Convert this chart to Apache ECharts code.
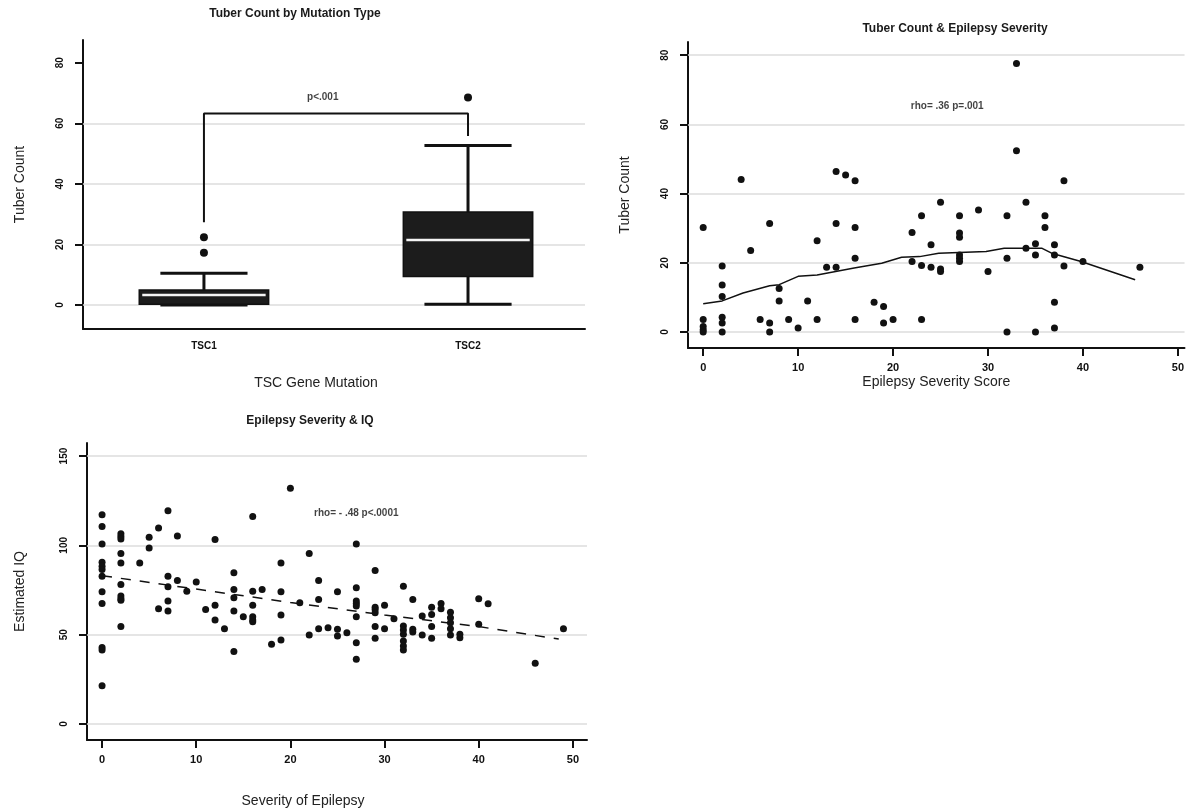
<!DOCTYPE html>
<html>
<head>
<meta charset="utf-8">
<script src="https://cdn.jsdelivr.net/npm/echarts@6/dist/echarts.min.js"></script>
<style>
  html, body { margin: 0; padding: 0; background: #fff; }
  #chart { width: 1187px; height: 812px; }
</style>
</head>
<body>
<div id="chart"></div>
<script>
// Panel 1: tuber count by mutation type (box plot)
const mutationGroups = ['TSC1', 'TSC2'];
// [group position, lower whisker, Q1, median, Q3, upper whisker]
const boxStats = [
  [1, 0, 0.3, 3.3, 5, 10.5],
  [2, 0.3, 9.4, 21.5, 30.7, 52.7]
];
const boxOutliers = [[1, 22.4], [1, 17.3], [2, 68.5]];
const bracketPath = [[1, 27.3], [1, 63.2], [2, 63.2], [2, 55.8]];

// Panel 2: epilepsy severity score vs tuber count
const severityTuber = [
  [0, 30.2], [0, 3.6], [0, 1.6], [0, 0.7], [0, 0],
  [2, 19.1], [2, 13.6], [2, 10.3], [2, 4.3], [2, 2.6], [2, 0],
  [4, 44.1], [5, 23.6], [6, 3.6], [7, 31.4], [7, 2.6], [7, 0],
  [8, 12.6], [8, 9.0], [9, 3.6], [10, 1.2], [11, 9.0],
  [12, 26.4], [12, 3.6], [13, 18.7],
  [14, 46.4], [14, 31.4], [14, 18.7], [15, 45.4],
  [16, 43.7], [16, 30.2], [16, 21.3], [16, 3.6],
  [18, 8.6], [19, 7.4], [19, 2.6], [20, 3.6],
  [22, 28.8], [22, 20.4], [23, 33.6], [23, 19.2], [23, 3.6],
  [24, 25.2], [24, 18.7], [25, 37.5], [25, 18.2], [25, 17.5],
  [27, 33.6], [27, 28.6], [27, 27.4], [27, 22.3], [27, 21.3], [27, 20.4],
  [29, 35.3], [30, 17.5], [32, 33.6], [32, 21.3], [32, 0],
  [33, 77.6], [33, 52.4], [34, 37.5], [34, 24.2],
  [35, 25.5], [35, 22.3], [35, 0], [36, 33.6], [36, 30.2],
  [37, 25.2], [37, 22.3], [37, 8.6], [37, 1.2],
  [38, 43.7], [38, 19.1], [40, 20.4], [46, 18.7]
];
const severityTuberFit = [
  [0, 8.2], [2, 9.0], [4.2, 11.3], [7, 13.4], [8, 13.7], [10, 16.1],
  [12, 16.5], [15.9, 18.5], [18.8, 19.9], [20.9, 21.6], [22.8, 21.8],
  [24.8, 22.8], [29.8, 23.3], [31.7, 24.2], [35.7, 24.2], [36.7, 22.8],
  [39.8, 20.4], [45.5, 15.1]
];

// Panel 3: severity of epilepsy vs estimated IQ
const severityIQ = [
  [0, 117.1], [0, 110.6], [0, 100.7], [0, 90.5], [0, 88.3], [0, 86.4], [0, 82.7],
  [0, 74.0], [0, 67.5], [0, 42.8], [0, 41.4], [0, 21.4],
  [2, 106.5], [2, 105], [2, 103.5], [2, 95.4], [2, 90.1], [2, 78.1], [2, 71.6],
  [2, 70.1], [2, 69.3], [2, 54.5],
  [4, 90.1], [5, 104.5], [5, 98.5], [6, 109.7], [6, 64.5],
  [7, 119.3], [7, 82.7], [7, 76.8], [7, 68.8], [7, 63.2],
  [8, 105.2], [8, 80.3], [9, 74.3], [10, 79.4], [11, 64.1],
  [12, 103.2], [12, 66.4], [12, 58.2], [13, 53.3],
  [14, 84.6], [14, 75.3], [14, 70.6], [14, 63.2], [14, 40.5], [15, 60.0],
  [16, 116.2], [16, 74.3], [16, 66.5], [16, 60.0], [16, 58.2], [16, 57.2],
  [17, 75.3], [18, 44.6], [19, 90.1], [19, 74.0], [19, 61.0], [19, 47.0],
  [20, 132.0], [21, 67.8], [22, 95.4], [22, 49.8],
  [23, 80.3], [23, 69.7], [23, 53.3], [24, 53.9],
  [25, 74.0], [25, 53.0], [25, 49.3], [26, 51.1],
  [27, 100.7], [27, 76.2], [27, 68.8], [27, 67.5], [27, 66.0], [27, 60.0], [27, 45.5], [27, 36.2],
  [29, 85.9], [29, 65.4], [29, 64.1], [29, 62.3], [29, 54.5], [29, 48.0],
  [30, 66.4], [30, 53.3], [31, 58.9],
  [32, 77.1], [32, 54.8], [32, 52.6], [32, 50.2], [32, 46.5], [32, 43.7], [32, 41.4],
  [33, 69.7], [33, 53.0], [33, 51.5], [34, 60.4], [34, 49.8],
  [35, 65.4], [35, 61.3], [35, 54.5], [35, 48.0], [36, 67.5], [36, 64.5],
  [37, 62.6], [37, 59.5], [37, 56.7], [37, 53.3], [37, 49.8],
  [38, 50.2], [38, 48.3], [40, 70.1], [40, 55.8], [41, 67.3],
  [46, 34.0], [49, 53.3]
];
const severityIQFit = [[0, 83], [10, 75.5], [20, 68], [30, 61], [40, 54.5], [48.5, 47.5]];

const tuberTicks = [0, 20, 40, 60, 80];
const tuberGridPanel1 = [0, 20, 40, 60];
const severityTicks = [0, 10, 20, 30, 40, 50];
const iqTicks = [0, 50, 100, 150];

const FONT = 'Liberation Sans, Arial, sans-serif';
const INK = '#111';
const GRID_COLOR = '#dcdcdc';

const chart = echarts.init(document.getElementById('chart'));

// light horizontal gridlines, kept under the marks
function gridLines(values) {
  return {
    silent: true,
    symbol: 'none',
    z: 1,
    label: { show: false },
    lineStyle: { color: GRID_COLOR, width: 1.5, type: 'solid' },
    data: values.map(v => ({ yAxis: v }))
  };
}

function valueAxisY(gridIndex, min, max, ticks, name, nameGap) {
  return {
    type: 'value', gridIndex, min, max,
    name, nameLocation: 'middle', nameGap,
    nameTextStyle: { fontFamily: FONT, fontSize: 14, color: '#222' },
    axisLine: { show: true, onZero: false, lineStyle: { color: INK, width: 2 } },
    axisTick: { show: true, length: 8, customValues: ticks, lineStyle: { color: INK, width: 2 } },
    axisLabel: {
      customValues: ticks, rotate: 90, margin: 18,
      fontFamily: FONT, fontSize: 10, fontWeight: 'bold', color: INK
    },
    splitLine: { show: false }
  };
}

function valueAxisX(gridIndex, min, max, ticks, name, nameGap, shiftLeft) {
  return {
    type: 'value', gridIndex, min, max,
    name, nameLocation: 'middle', nameGap,
    nameTextStyle: { fontFamily: FONT, fontSize: 14, color: '#222', padding: [0, shiftLeft * 2, 0, 0] },
    axisLine: { show: true, onZero: false, lineStyle: { color: INK, width: 2 } },
    axisTick: { show: true, length: 8, customValues: ticks, lineStyle: { color: INK, width: 2 } },
    axisLabel: {
      customValues: ticks, margin: 14,
      fontFamily: FONT, fontSize: 11, fontWeight: 'bold', color: INK
    },
    splitLine: { show: false }
  };
}

function renderBox(params, api) {
  const x = api.value(0);
  const lo = api.coord([x, api.value(1)]);
  const q1 = api.coord([x, api.value(2)]);
  const med = api.coord([x, api.value(3)]);
  const q3 = api.coord([x, api.value(4)]);
  const hi = api.coord([x, api.value(5)]);
  const half = api.size([0.49, 0])[0] / 2;
  const capHalf = api.size([0.33, 0])[0] / 2;
  const cx = lo[0];
  const stroke = { stroke: INK, lineWidth: 3 };
  return {
    type: 'group',
    children: [
      { type: 'line', shape: { x1: cx, y1: lo[1], x2: cx, y2: q1[1] }, style: stroke },
      { type: 'line', shape: { x1: cx, y1: q3[1], x2: cx, y2: hi[1] }, style: stroke },
      { type: 'line', shape: { x1: cx - capHalf, y1: lo[1], x2: cx + capHalf, y2: lo[1] }, style: stroke },
      { type: 'line', shape: { x1: cx - capHalf, y1: hi[1], x2: cx + capHalf, y2: hi[1] }, style: stroke },
      {
        type: 'rect',
        shape: { x: cx - half, y: q3[1], width: half * 2, height: q1[1] - q3[1] },
        style: { fill: '#1c1c1c', stroke: INK, lineWidth: 1.5 }
      },
      {
        type: 'line',
        shape: { x1: cx - half + 3, y1: med[1], x2: cx + half - 3, y2: med[1] },
        style: { stroke: '#f4f4f4', lineWidth: 2.5 }
      }
    ]
  };
}

const dotStyle = { color: INK, opacity: 1 };
const noteLabel = {
  show: true, position: 'inside',
  formatter: p => p.value[2],
  fontFamily: FONT, fontSize: 10, fontWeight: 'bold', color: INK
};
const titleText = { fontFamily: FONT, fontSize: 12, fontWeight: 'bold', color: '#1a1a1a' };

const option = {
  animation: false,
  backgroundColor: '#fff',
  title: [
    { text: 'Tuber Count by Mutation Type', left: 290, top: 3, textAlign: 'center', textStyle: titleText },
    { text: 'Tuber Count & Epilepsy Severity', left: 950, top: 18, textAlign: 'center', textStyle: titleText },
    { text: 'Epilepsy Severity & IQ', left: 305, top: 410, textAlign: 'center', textStyle: titleText }
  ],
  grid: [
    { left: 83, top: 40, width: 502, height: 289 },
    { left: 688, top: 42, width: 499, height: 306 },
    { left: 87, top: 443, width: 500, height: 297 }
  ],
  xAxis: [
    {
      type: 'value', gridIndex: 0, min: 0.542, max: 2.443,
      name: 'TSC Gene Mutation', nameLocation: 'middle', nameGap: 47,
      nameTextStyle: { fontFamily: FONT, fontSize: 14, color: '#222', padding: [0, 36, 0, 0] },
      axisLine: { show: true, onZero: false, lineStyle: { color: INK, width: 2 } },
      axisTick: { show: false },
      axisLabel: {
        customValues: [1, 2], margin: 12,
        formatter: v => mutationGroups[Math.round(v) - 1],
        fontFamily: FONT, fontSize: 10, fontWeight: 'bold', color: INK
      },
      splitLine: { show: false }
    },
    valueAxisX(1, -1.6, 50.7, severityTicks, 'Epilepsy Severity Score', 27, 0),
    valueAxisX(2, -1.6, 51.5, severityTicks, 'Severity of Epilepsy', 54, 34)
  ],
  yAxis: [
    valueAxisY(0, -7.9, 87.5, tuberTicks, 'Tuber Count', 56),
    valueAxisY(1, -4.6, 83.8, tuberTicks, 'Tuber Count', 56),
    valueAxisY(2, -9, 157.3, iqTicks, 'Estimated IQ', 60)
  ],
  series: [
    {
      type: 'custom', xAxisIndex: 0, yAxisIndex: 0,
      renderItem: renderBox,
      encode: { x: 0, y: [1, 2, 3, 4, 5] },
      data: boxStats,
      markLine: gridLines(tuberGridPanel1),
      z: 3
    },
    {
      type: 'scatter', xAxisIndex: 0, yAxisIndex: 0,
      symbol: 'circle', symbolSize: 8, itemStyle: dotStyle,
      data: boxOutliers, z: 4
    },
    {
      type: 'line', xAxisIndex: 0, yAxisIndex: 0,
      symbol: 'none', lineStyle: { color: INK, width: 2 },
      data: bracketPath, z: 4
    },
    {
      type: 'scatter', xAxisIndex: 0, yAxisIndex: 0,
      symbolSize: 1, itemStyle: { color: 'transparent' },
      label: noteLabel,
      data: [[1.45, 68.6, 'p<.001']]
    },
    {
      type: 'scatter', xAxisIndex: 1, yAxisIndex: 1,
      symbol: 'circle', symbolSize: 7, itemStyle: dotStyle,
      data: severityTuber,
      markLine: gridLines(tuberTicks), z: 4
    },
    {
      type: 'line', xAxisIndex: 1, yAxisIndex: 1,
      symbol: 'none', lineStyle: { color: INK, width: 1.5 },
      data: severityTuberFit, z: 3
    },
    {
      type: 'scatter', xAxisIndex: 1, yAxisIndex: 1,
      symbolSize: 1, itemStyle: { color: 'transparent' },
      label: noteLabel,
      data: [[25.7, 65.3, 'rho= .36 p=.001']]
    },
    {
      type: 'scatter', xAxisIndex: 2, yAxisIndex: 2,
      symbol: 'circle', symbolSize: 7, itemStyle: dotStyle,
      data: severityIQ,
      markLine: gridLines(iqTicks), z: 4
    },
    {
      type: 'line', xAxisIndex: 2, yAxisIndex: 2,
      symbol: 'none', lineStyle: { color: INK, width: 1.5, type: [10, 9] },
      data: severityIQFit, z: 3
    },
    {
      type: 'scatter', xAxisIndex: 2, yAxisIndex: 2,
      symbolSize: 1, itemStyle: { color: 'transparent' },
      label: noteLabel,
      data: [[27, 118, 'rho= - .48 p<.0001']]
    }
  ]
};

chart.setOption(option);
</script>
</body>
</html>
